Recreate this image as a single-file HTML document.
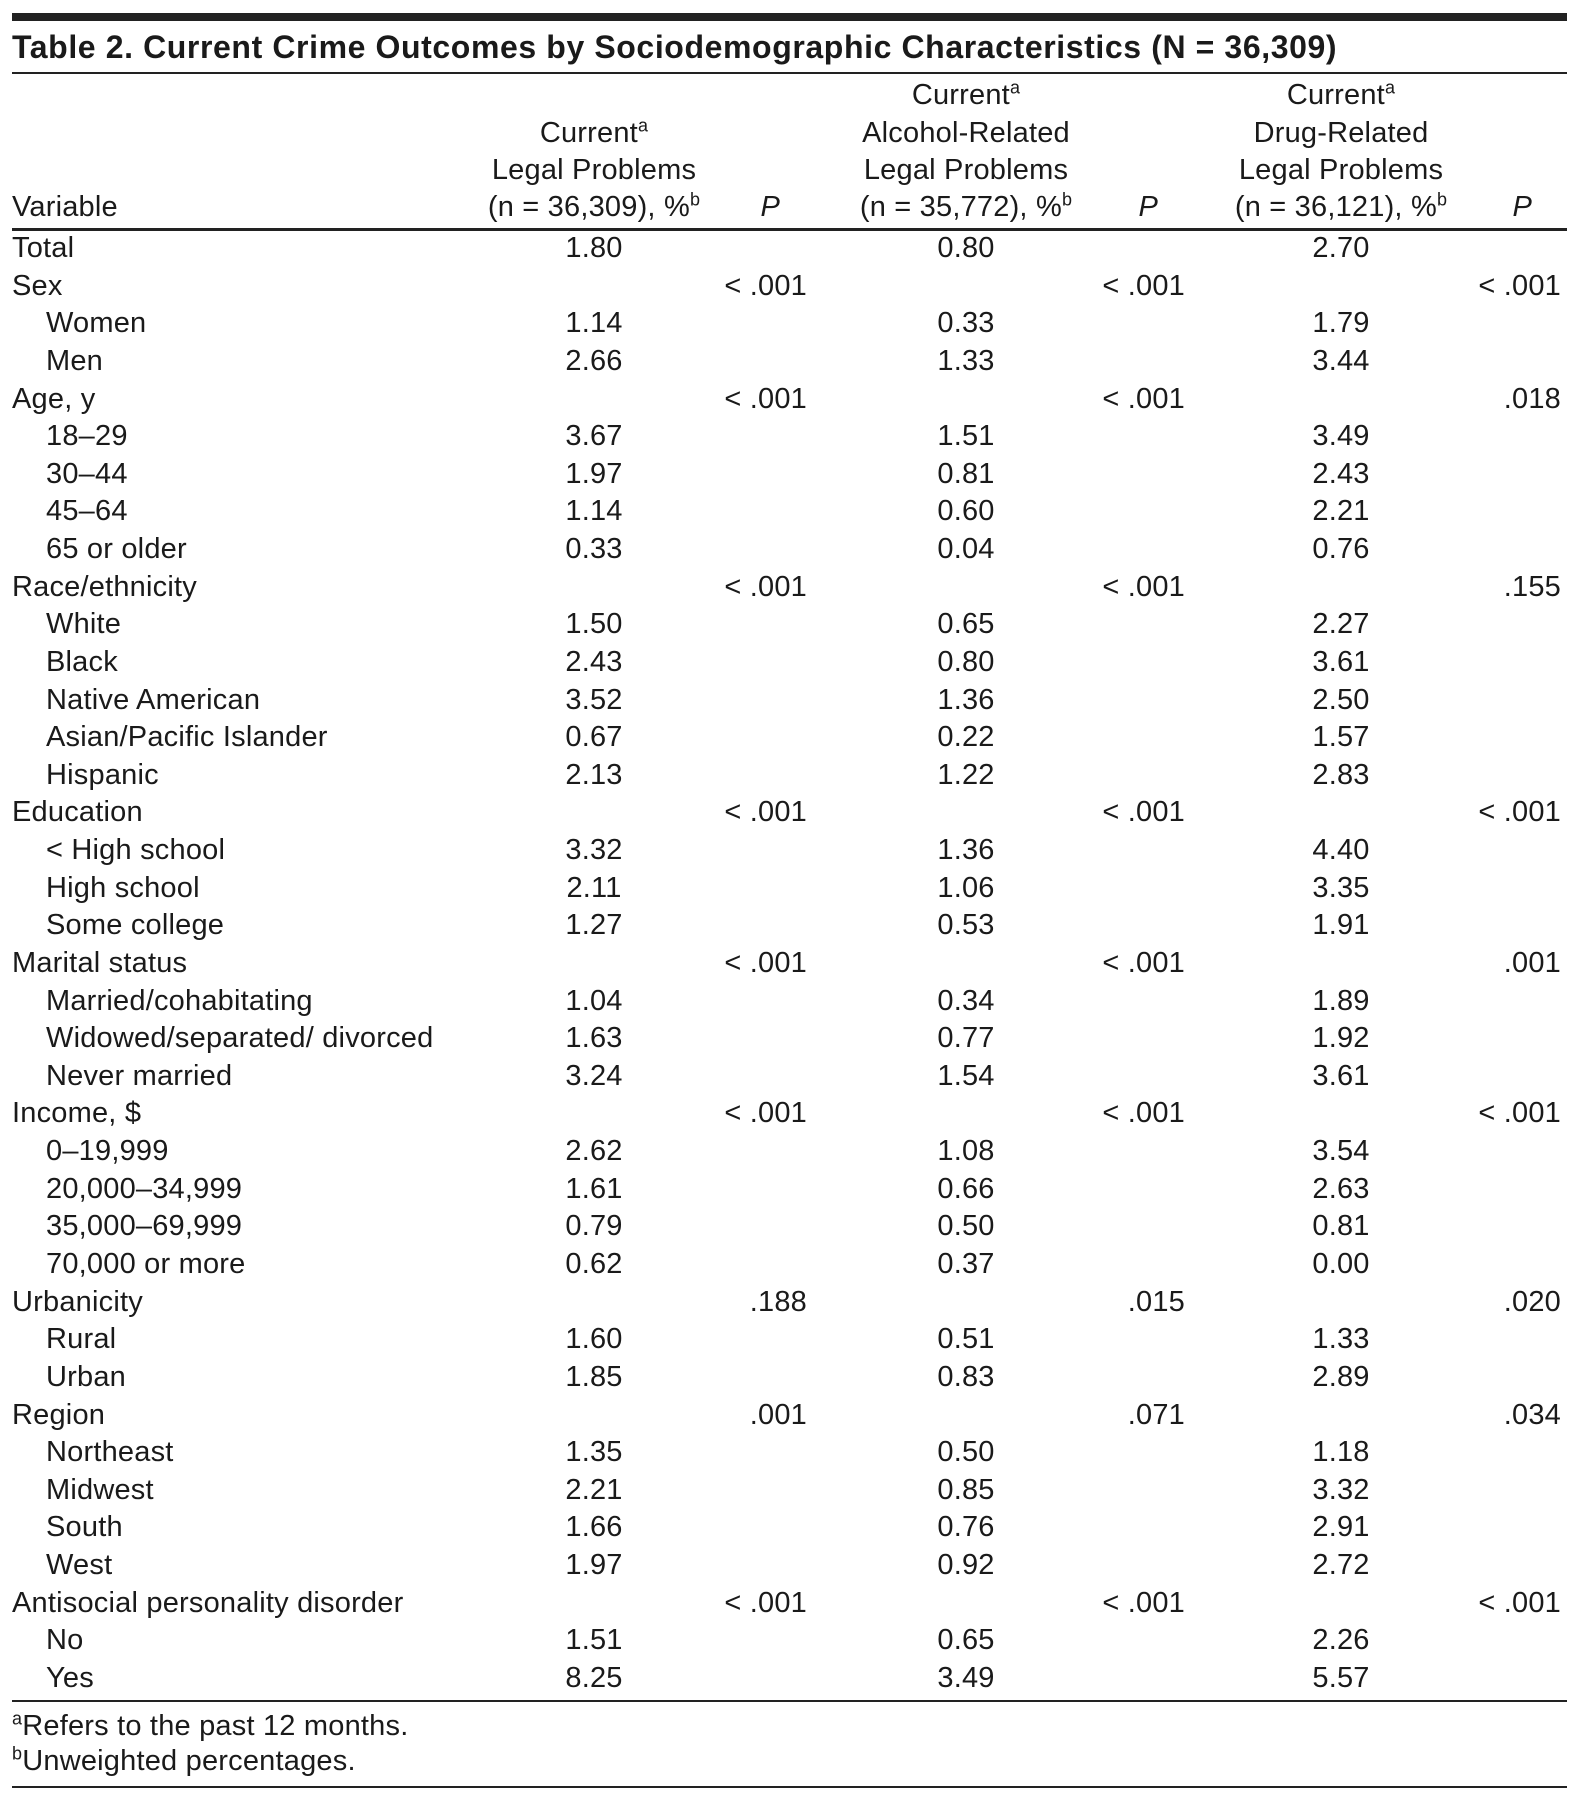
<!DOCTYPE html>
<html><head><meta charset="utf-8"><style>
body{margin:0;background:#fff;width:1578px;height:1803px;position:relative;overflow:hidden;font-family:"Liberation Sans",sans-serif;color:#1a1a1a}
.t{position:absolute;white-space:nowrap;font-size:29px;line-height:30px;transform:translateY(-50%);letter-spacing:0.2px}
.c{text-align:center;width:400px}
.r{text-align:right;width:200px}
.ln{position:absolute;left:12px;width:1555px;background:#222}
sup{font-size:18px;line-height:0}
</style></head><body>
<div class="ln" style="top:13px;height:8px"></div>
<div class="t" style="left:12px;top:47px;font-weight:bold;font-size:32px;letter-spacing:0.6px">Table 2. Current Crime Outcomes by Sociodemographic Characteristics (N = 36,309)</div>
<div class="ln" style="top:72px;height:2px"></div>
<div class="t" style="left:12px;top:207px">Variable</div>
<div>
<div class="t c" style="left:394px;top:133px">Current<sup>a</sup></div>
<div class="t c" style="left:394px;top:170px">Legal Problems</div>
<div class="t c" style="left:394px;top:207px">(n = 36,309), %<sup>b</sup></div>
</div>
<div>
<div class="t c" style="left:766px;top:95px">Current<sup>a</sup></div>
<div class="t c" style="left:766px;top:133px">Alcohol-Related</div>
<div class="t c" style="left:766px;top:170px">Legal Problems</div>
<div class="t c" style="left:766px;top:207px">(n = 35,772), %<sup>b</sup></div>
</div>
<div>
<div class="t c" style="left:1141px;top:95px">Current<sup>a</sup></div>
<div class="t c" style="left:1141px;top:133px">Drug-Related</div>
<div class="t c" style="left:1141px;top:170px">Legal Problems</div>
<div class="t c" style="left:1141px;top:207px">(n = 36,121), %<sup>b</sup></div>
</div>
<div class="t r" style="left:580px;top:207px;font-style:italic">P</div>
<div class="t r" style="left:958px;top:207px;font-style:italic">P</div>
<div class="t r" style="left:1332px;top:207px;font-style:italic">P</div>
<div class="ln" style="top:228px;height:3px"></div>
<div id="rows"></div>
<div class="ln" style="top:1700px;height:2px"></div>
<div class="t" style="left:12px;top:1726px;font-size:29px;letter-spacing:0.2px"><sup>a</sup>Refers to the past 12 months.</div>
<div class="t" style="left:12px;top:1761px;font-size:29px;letter-spacing:0.2px"><sup>b</sup>Unweighted percentages.</div>
<div class="ln" style="top:1786px;height:2px"></div>
<script>
const labels=["Total","Sex","Women","Men","Age, y","18–29","30–44","45–64","65 or older","Race/ethnicity","White","Black","Native American","Asian/Pacific Islander","Hispanic","Education","< High school","High school","Some college","Marital status","Married/cohabitating","Widowed/separated/ divorced","Never married","Income, $","0–19,999","20,000–34,999","35,000–69,999","70,000 or more","Urbanicity","Rural","Urban","Region","Northeast","Midwest","South","West","Antisocial personality disorder","No","Yes"];
const indent=[0,0,1,1,0,1,1,1,1,0,1,1,1,1,1,0,1,1,1,0,1,1,1,0,1,1,1,1,0,1,1,0,1,1,1,1,0,1,1];
const legal=["1.80","","1.14","2.66","","3.67","1.97","1.14","0.33","","1.50","2.43","3.52","0.67","2.13","","3.32","2.11","1.27","","1.04","1.63","3.24","","2.62","1.61","0.79","0.62","","1.60","1.85","","1.35","2.21","1.66","1.97","","1.51","8.25"];
const p1=["","< .001","","","< .001","","","","","< .001","","","","","","< .001","","","","< .001","","","","< .001","","","","",".188","","",".001","","","","","< .001","",""];
const alcohol=["0.80","","0.33","1.33","","1.51","0.81","0.60","0.04","","0.65","0.80","1.36","0.22","1.22","","1.36","1.06","0.53","","0.34","0.77","1.54","","1.08","0.66","0.50","0.37","","0.51","0.83","","0.50","0.85","0.76","0.92","","0.65","3.49"];
const p2=["","< .001","","","< .001","","","","","< .001","","","","","","< .001","","","","< .001","","","","< .001","","","","",".015","","",".071","","","","","< .001","",""];
const drug=["2.70","","1.79","3.44","","3.49","2.43","2.21","0.76","","2.27","3.61","2.50","1.57","2.83","","4.40","3.35","1.91","","1.89","1.92","3.61","","3.54","2.63","0.81","0.00","","1.33","2.89","","1.18","3.32","2.91","2.72","","2.26","5.57"];
const p3=["","< .001","","",".018","","","","",".155","","","","","","< .001","","","",".001","","","","< .001","","","","",".020","","",".034","","","","","< .001","",""];
const root=document.getElementById('rows');
function add(cls,left,top,text,name){
  const d=document.createElement('div');
  d.className='t '+cls;
  d.style.left=left+'px';d.style.top=top+'px';
  d.textContent=text;
  
  
  root.appendChild(d);
}
labels.forEach((l,i)=>{
  const y=248+i*37.63;
  add('',indent[i]?46:12,y,l,'row-label');
  if(legal[i])add('c',394,y,legal[i],'legal-value');
  if(alcohol[i])add('c',766,y,alcohol[i],'alcohol-value');
  if(drug[i])add('c',1141,y,drug[i],'drug-value');
  if(p1[i])add('r',607,y,p1[i],'p-value-legal');
  if(p2[i])add('r',985,y,p2[i],'p-value-alcohol');
  if(p3[i])add('r',1361,y,p3[i],'p-value-drug');
});
</script>
</body></html>
